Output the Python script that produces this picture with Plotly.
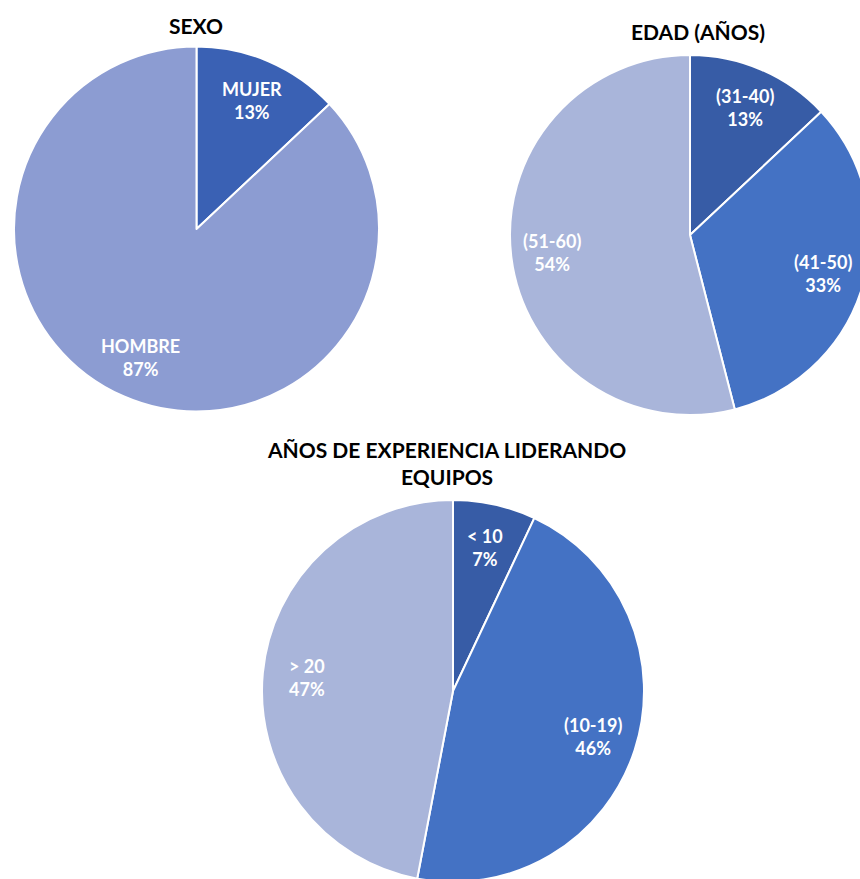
import math
import plotly.graph_objects as go

# Data
sexo_labels = ["MUJER", "HOMBRE"]
sexo_values = [13, 87]

edad_labels = ["(31-40)", "(41-50)", "(51-60)"]
edad_values = [13, 33, 54]

exp_labels = ["< 10", "(10-19)", "> 20"]
exp_values = [7, 46, 47]

titles = ["SEXO", "EDAD (AÑOS)", "AÑOS DE EXPERIENCIA LIDERANDO<br>EQUIPOS"]

W, H = 880, 892
FONT = "Lato"
LABEL_R = 0.77

def pie(labels, values, colors, box):
    x0, x1, y0, y1 = box
    domain = dict(x=[x0 / W, x1 / W], y=[1 - y1 / H, 1 - y0 / H])
    tr = go.Pie(
        labels=labels, values=values, domain=domain,
        sort=False, direction="clockwise", rotation=0,
        marker=dict(colors=colors, line=dict(color="white", width=2)),
        textinfo="none", showlegend=False, hoverinfo="label+percent",
    )
    # label annotations placed along slice bisectors
    cx, cy = (x0 + x1) / 2, (y0 + y1) / 2
    r = min(x1 - x0, y1 - y0) / 2
    total = sum(values)
    cum = 0
    anns = []
    for lab, v in zip(labels, values):
        mid = (cum + v / 2) / total * 2 * math.pi
        cum += v
        px = cx + math.sin(mid) * r * LABEL_R
        py = cy - math.cos(mid) * r * LABEL_R
        anns.append(dict(text=f"{lab}<br>{round(v / total * 100)}%",
                         x=px / W, y=1 - py / H, xref="paper", yref="paper",
                         showarrow=False, xanchor="center", yanchor="middle",
                         font=dict(family=FONT, size=18, color="white", weight="bold")))
    return tr, anns

fig = go.Figure()
for labels, values, colors, box in [
    (sexo_labels, sexo_values, ["#3A61B4", "#8C9CD2"], (14, 379, 46.5, 411.5)),
    (edad_labels, edad_values, ["#375CA6", "#4472C4", "#A9B5DA"], (510, 870, 55, 415)),
    (exp_labels, exp_values, ["#375CA6", "#4472C4", "#A9B5DA"], (262, 644, 500, 882)),
]:
    tr, anns = pie(labels, values, colors, box)
    fig.add_trace(tr)
    for a in anns:
        fig.add_annotation(**a)

title_pos = [(196, 25), (698, 31), (446, 463)]
for t, (x, y) in zip(titles, title_pos):
    fig.add_annotation(text=t, x=x / W, y=1 - y / H, xref="paper", yref="paper",
                       showarrow=False, xanchor="center", yanchor="middle",
                       font=dict(family=FONT, size=21, color="black", weight="bold"))

fig.update_layout(width=W, height=H, margin=dict(l=0, r=0, t=0, b=0),
                  paper_bgcolor="white", plot_bgcolor="white")

fig.write_html("out.html", post_script="document.body.style.margin='0';document.body.style.overflow='hidden';document.documentElement.style.overflow='hidden';")
